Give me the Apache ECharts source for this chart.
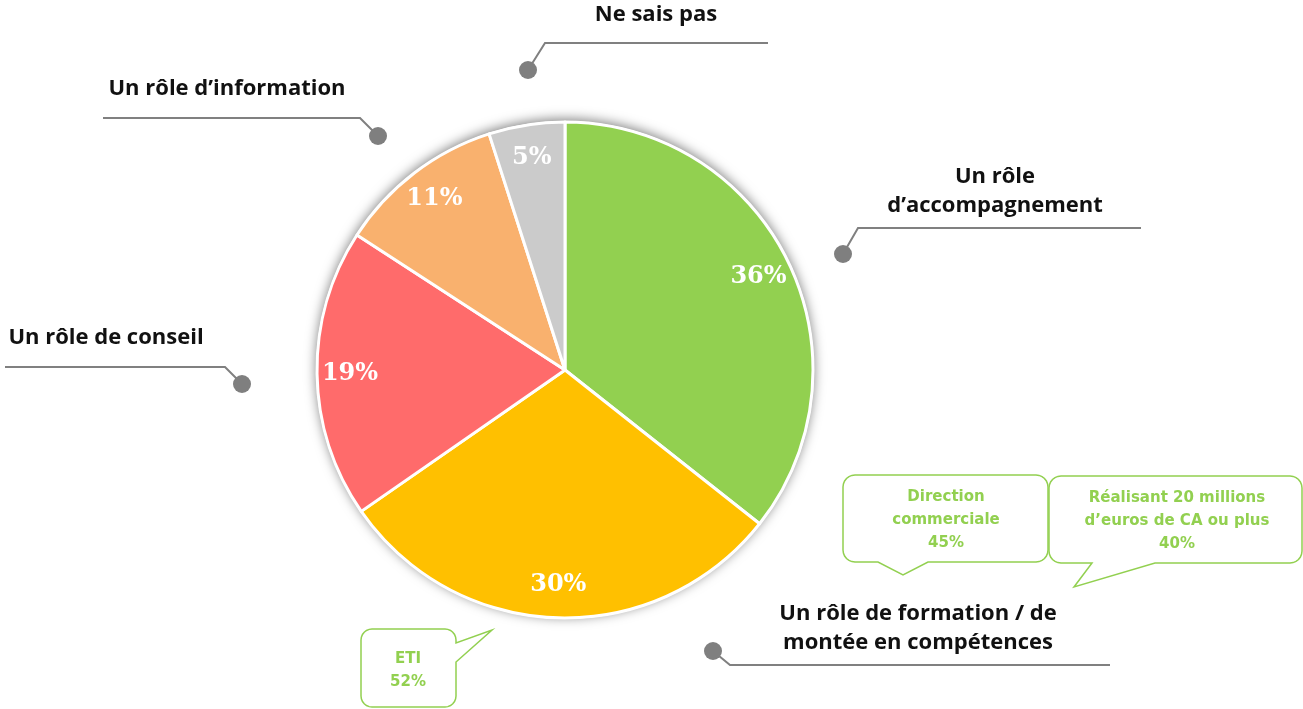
<!DOCTYPE html>
<html lang="fr">
<head>
    <meta charset="UTF-8">
    <title>Rôle attendu</title>
    <script type="text/javascript" src="https://cdn.jsdelivr.net/npm/echarts@6/dist/echarts.min.js"></script>
    <style>
        html, body { margin: 0; padding: 0; background: #fff; }
    </style>
</head>
<body>
<div id="chartmain" style="width:1303px;height:709px"></div>
<script>
    // données
    var categories = [
        'Un rôle\nd\u2019accompagnement',
        'Un rôle de formation / de\nmontée en compétences',
        'Un rôle de conseil',
        'Un rôle d\u2019information',
        'Ne sais pas'
    ];
    var values = [36, 30, 19, 11, 5];
    var colors = ['#92D050', '#FFC000', '#FF6B6B', '#F9B16E', '#CBCBCB'];

    // encadrés (bulles) verts
    var bubbleTexts = [
        'Direction\ncommerciale\n45%',
        'Réalisant 20 millions\nd\u2019euros de CA ou plus\n40%',
        'ETI\n52%'
    ];

    // placement des étiquettes : point, coude, fin de trait, centre du texte
    var labelPlaces = [
        {dot: [843, 254], elbow: [858, 228], end: [1141, 228], text: [995, 191]},
        {dot: [713, 651], elbow: [730, 665], end: [1110, 665], text: [918, 628]},
        {dot: [242, 384], elbow: [225, 367], end: [5, 367], text: [106, 338]},
        {dot: [378, 136], elbow: [360, 118], end: [103, 118], text: [227, 89]},
        {dot: [528, 70], elbow: [545, 43], end: [768, 43], text: [656, 15]}
    ];

    var data = [];
    var total = 0;
    for (var i = 0; i < values.length; i++) {
        data.push({name: categories[i], value: values[i], itemStyle: {color: colors[i]}});
        total += values[i];
    }

    // rectangle arrondi avec une pointe (tail = points insérés sur un côté)
    function corner(pts, cx, cy, r, a0) {
        for (var s = 0; s <= 6; s++) {
            var a = (a0 + s * 15) * Math.PI / 180;
            pts.push([cx + r * Math.cos(a), cy + r * Math.sin(a)]);
        }
    }
    function bubble(x0, y0, x1, y1, r, side, tail) {
        var pts = [];
        corner(pts, x1 - r, y0 + r, r, -90);          // haut droit
        if (side === 'right') pts = pts.concat(tail);
        corner(pts, x1 - r, y1 - r, r, 0);            // bas droit
        if (side === 'bottom') pts = pts.concat(tail);
        corner(pts, x0 + r, y1 - r, r, 90);           // bas gauche
        corner(pts, x0 + r, y0 + r, r, 180);          // haut gauche
        return pts;
    }

    var green = '#92D050';
    var graphics = [];
    // points gris au bout des traits
    for (var j = 0; j < labelPlaces.length; j++) {
        graphics.push({
            type: 'circle', z: 100,
            shape: {cx: labelPlaces[j].dot[0], cy: labelPlaces[j].dot[1], r: 9},
            style: {fill: '#7F7F7F'}
        });
    }
    var bubbleShapes = [
        bubble(843, 475, 1048, 562, 12, 'bottom', [[928, 562], [903, 575], [878, 562]]),
        bubble(1049, 476, 1302, 563, 12, 'bottom', [[1155, 563], [1074, 587], [1092, 563]]),
        bubble(361, 629, 456, 707, 11, 'right', [[456, 643], [492, 630], [456, 662]])
    ];
    var bubbleCenters = [[946, 520], [1177, 521], [408, 671]];
    for (var k = 0; k < bubbleShapes.length; k++) {
        graphics.push({
            type: 'polygon', z: 90,
            shape: {points: bubbleShapes[k]},
            style: {fill: '#fff', stroke: green, lineWidth: 1.5}
        });
        graphics.push({
            type: 'text', z: 95,
            x: bubbleCenters[k][0], y: bubbleCenters[k][1],
            style: {
                text: bubbleTexts[k],
                fill: green,
                font: 'bold 15px "DejaVu Sans"',
                lineHeight: 23,
                align: 'center',
                verticalAlign: 'middle'
            }
        });
    }

    var option = {
        backgroundColor: '#fff',
        animation: false,
        graphic: graphics,
        series: [
            {
                // disque d'ombre derrière le camembert
                type: 'pie',
                center: [565, 370],
                radius: 249,
                silent: true,
                z: 1,
                data: [{value: total}],
                itemStyle: {
                    color: '#fff',
                    shadowBlur: 12,
                    shadowOffsetY: -2,
                    shadowColor: 'rgba(0,0,0,0.5)'
                },
                label: {show: false},
                labelLine: {show: false}
            },
            {
                type: 'pie',
                center: [565, 370],
                radius: 248,
                startAngle: 90,
                z: 2,
                avoidLabelOverlap: false,
                data: data,
                itemStyle: {
                    borderColor: '#fff',
                    borderWidth: 3
                },
                label: {
                    show: true,
                    position: 'outside',
                    color: '#111',
                    fontFamily: 'Open Sans',
                    fontWeight: 'bold',
                    fontSize: 22,
                    lineHeight: 29,
                    align: 'center'
                },
                labelLine: {
                    show: true,
                    lineStyle: {color: '#808080', width: 2}
                },
                labelLayout: function (params) {
                    var p = labelPlaces[params.dataIndex];
                    return {
                        x: p.text[0],
                        y: p.text[1],
                        align: 'center',
                        verticalAlign: 'middle',
                        labelLinePoints: [p.dot, p.elbow, p.end]
                    };
                },
                emphasis: {disabled: true}
            },
            {
                type: 'pie',
                center: [565, 370],
                radius: [176, 248],
                startAngle: 90,
                z: 3,
                silent: true,
                data: values.map(function (v, i) { return {name: categories[i], value: v}; }),
                itemStyle: {color: 'rgba(0,0,0,0)'},
                label: {
                    show: true,
                    position: 'inside',
                    formatter: '{c}%',
                    color: '#fff',
                    fontFamily: 'DejaVu Serif',
                    fontWeight: 'bold',
                    fontSize: 24
                },
                labelLine: {show: false}
            }
        ]
    };

    var myChart = echarts.init(document.getElementById('chartmain'));
    myChart.setOption(option);
</script>
</body>
</html>
